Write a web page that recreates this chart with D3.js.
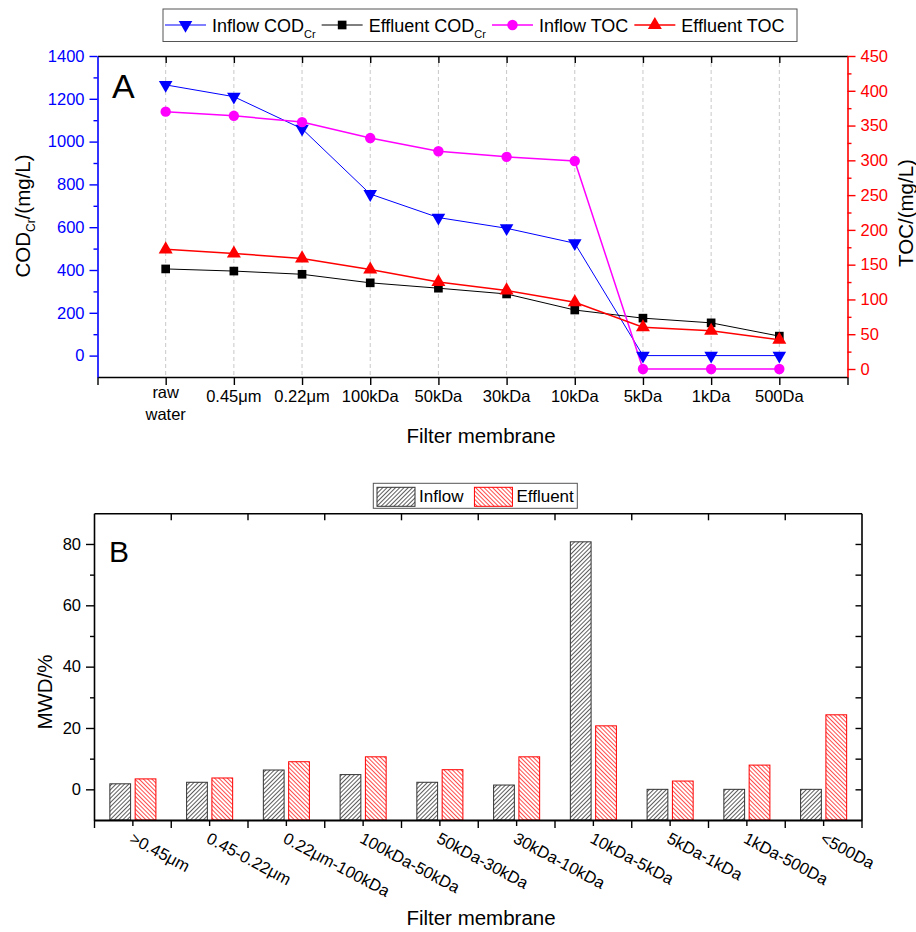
<!DOCTYPE html>
<html><head><meta charset="utf-8">
<script src="https://cdn.jsdelivr.net/npm/d3@7"></script>
<style>body{margin:0;background:#fff} text{font-family:"Liberation Sans",Arial,sans-serif}</style>
</head><body><svg id="c" width="916" height="932"></svg>
<script>
// ---------- Data: chart A ----------
const categoriesA = ["raw water", "0.45μm", "0.22μm", "100kDa", "50kDa", "30kDa", "10kDa", "5kDa", "1kDa", "500Da"];
const inflowCOD   = [1265, 1210, 1060, 755, 645, 595, 525, 0, 0, 0];
const effluentCOD = [405, 395, 380, 340, 315, 288, 213, 175, 153, 91];
const inflowTOC   = [370, 364, 355, 332, 313, 305, 299, 0, 0, 0];
const effluentTOC = [172, 166, 159, 143, 125, 113, 96, 60, 55, 42];
const codTicks = [0, 200, 400, 600, 800, 1000, 1200, 1400];
const tocTicks = [0, 50, 100, 150, 200, 250, 300, 350, 400, 450];
// ---------- Data: chart B ----------
const categoriesB = [">0.45μm", "0.45-0.22μm", "0.22μm-100kDa", "100kDa-50kDa", "50kDa-30kDa", "30kDa-10kDa", "10kDa-5kDa", "5kDa-1kDa", "1kDa-500Da", "<500Da"];
const inflowMWD   = [1.8, 2.3, 6.3, 4.8, 2.3, 1.4, 80.7, 0, 0, 0];
const effluentMWD = [3.4, 3.7, 9.0, 10.6, 6.4, 10.6, 20.7, 2.7, 7.9, 24.3];
const mwdTicks = [0, 20, 40, 60, 80];

const svg = d3.select("#c");
const FONT = "16.5px";

// patterns
const defs = svg.append("defs");
function hatch(id, color, angle) {
  const p = defs.append("pattern").attr("id", id).attr("patternUnits", "userSpaceOnUse")
    .attr("width", 3).attr("height", 3).attr("patternTransform", `rotate(${angle})`);
  p.append("rect").attr("width", 3).attr("height", 3).attr("fill", "#fff");
  p.append("line").attr("x1", 0.5).attr("y1", 0).attr("x2", 0.5).attr("y2", 3)
    .attr("stroke", color).attr("stroke-width", 0.8);
}
hatch("hIn", "#333", 45);
hatch("hEf", "#ff2020", -45);

// ================= Chart A =================
const A = {left: 97.5, right: 847.5, top: 56, bottom: 377};
const xA = d3.scaleLinear().domain([-1, 10]).range([A.left, A.right]);
const yL = d3.scaleLinear().domain([-100, 1400]).range([A.bottom, A.top]);
const yR = d3.scaleLinear().domain([-11.5, 450]).range([A.bottom, A.top]);
const gA = svg.append("g");

// grid
gA.selectAll("line.grid").data(categoriesA).join("line")
  .attr("x1", (d, i) => xA(i)).attr("x2", (d, i) => xA(i))
  .attr("y1", A.top).attr("y2", A.bottom)
  .attr("stroke", "#c8c8c8").attr("stroke-dasharray", "4,3").attr("stroke-width", 1);

function styleAxis(g, color, w) {
  g.selectAll("path.domain").attr("stroke", color).attr("stroke-width", w || 1.6);
  g.selectAll(".tick line").attr("stroke", color).attr("stroke-width", 1.4);
  g.selectAll(".tick text").attr("fill", color).style("font-size", FONT)
    .style("font-family", '"Liberation Sans",Arial,sans-serif');
}
// top axis (inward ticks)
const topA = gA.append("g").attr("transform", `translate(0,${A.top})`)
  .call(d3.axisBottom(xA).tickValues(d3.range(0, 10)).tickSize(7).tickSizeOuter(0).tickFormat(""));
styleAxis(topA, "#000");
// bottom axis
const botA = gA.append("g").attr("transform", `translate(0,${A.bottom})`)
  .call(d3.axisBottom(xA).tickValues(d3.range(-1, 11)).tickSize(8).tickSizeOuter(0).tickFormat(""));
styleAxis(botA, "#000");
// left axis
const leftA = gA.append("g").attr("transform", `translate(${A.left},0)`)
  .call(d3.axisLeft(yL).tickValues(codTicks).tickSize(8).tickSizeOuter(0).tickPadding(5).tickFormat(d3.format("d")));
gA.append("g").attr("transform", `translate(${A.left},0)`)
  .call(d3.axisLeft(yL).tickValues(d3.range(100, 1400, 200)).tickSize(4).tickFormat("")).call(g => { g.select(".domain").remove(); styleAxis(g, "#0000ff"); });
styleAxis(leftA, "#0000ff");
// right axis
const rightA = gA.append("g").attr("transform", `translate(${A.right},0)`)
  .call(d3.axisRight(yR).tickValues(tocTicks).tickSize(8).tickSizeOuter(0).tickPadding(5).tickFormat(d3.format("d")));
gA.append("g").attr("transform", `translate(${A.right},0)`)
  .call(d3.axisRight(yR).tickValues(d3.range(25, 450, 50)).tickSize(4).tickFormat("")).call(g => { g.select(".domain").remove(); styleAxis(g, "#ff0000"); });
styleAxis(rightA, "#ff0000");

// x labels A
categoriesA.forEach((c, i) => {
  if (c === "raw water") {
    const t = gA.append("text").attr("x", xA(i)).attr("y", 398).attr("text-anchor", "middle").style("font-size", FONT);
    t.append("tspan").attr("x", xA(i)).text("raw");
    t.append("tspan").attr("x", xA(i)).attr("dy", 22).text("water");
  } else {
    gA.append("text").attr("x", xA(i)).attr("y", 401.5).attr("text-anchor", "middle").style("font-size", FONT).text(c);
  }
});
gA.append("text").attr("x", 481).attr("y", 443).attr("text-anchor", "middle").style("font-size", "20.5px").text("Filter membrane");
// y titles
const tl = gA.append("text").attr("transform", "translate(30,216) rotate(-90)").attr("text-anchor", "middle").style("font-size", "20.5px");
tl.append("tspan").text("COD");
tl.append("tspan").attr("dy", 5).style("font-size", "12px").text("Cr");
tl.append("tspan").attr("dy", -5).text("/(mg/L)");
gA.append("text").attr("transform", "translate(913,213) rotate(-90)").attr("text-anchor", "middle").style("font-size", "20.5px").text("TOC/(mg/L)");
gA.append("text").attr("x", 112).attr("y", 98).style("font-size", "34px").text("A");

// series
const seriesA = [
  {name: "Inflow COD", sub: "Cr", data: inflowCOD, y: yL, color: "#0000ff", sym: d3.symbolTriangle, rot: 180, size: 80, w: 1},
  {name: "Effluent COD", sub: "Cr", data: effluentCOD, y: yL, color: "#000000", sym: d3.symbolSquare, rot: 0, size: 75, w: 1},
  {name: "Inflow TOC", sub: "", data: inflowTOC, y: yR, color: "#ff00ff", sym: d3.symbolCircle, rot: 0, size: 85, w: 1.5},
  {name: "Effluent TOC", sub: "", data: effluentTOC, y: yR, color: "#ff0000", sym: d3.symbolTriangle, rot: 0, size: 85, w: 1.5}
];
seriesA.forEach(s => {
  gA.append("path").datum(s.data)
    .attr("d", d3.line().x((d, i) => xA(i)).y(d => s.y(d)))
    .attr("fill", "none").attr("stroke", s.color).attr("stroke-width", s.w);
});
seriesA.forEach(s => {
  gA.selectAll(null).data(s.data).join("path")
    .attr("d", d3.symbol().type(s.sym).size(s.size))
    .attr("transform", (d, i) => `translate(${xA(i)},${s.y(d)}) rotate(${s.rot})`)
    .attr("fill", s.color);
});

// legend A
const legA = gA.append("g");
legA.append("rect").attr("x", 163).attr("y", 9).attr("width", 634).attr("height", 32.5)
  .attr("fill", "#fff").attr("stroke", "#555").attr("stroke-width", 1);
let lx = 165;
seriesA.forEach(s => {
  legA.append("line").attr("x1", lx).attr("x2", lx + 41).attr("y1", 25).attr("y2", 25)
    .attr("stroke", s.color).attr("stroke-width", s.w);
  legA.append("path").attr("d", d3.symbol().type(s.sym).size(s.size))
    .attr("transform", `translate(${lx + 20.5},25) rotate(${s.rot})`).attr("fill", s.color);
  const t = legA.append("text").attr("x", lx + 47).attr("y", 31.5).style("font-size", "18px");
  t.append("tspan").text(s.name);
  if (s.sub) t.append("tspan").attr("dy", 6).style("font-size", "11px").text(s.sub);
  lx = lx + 47 + t.node().getComputedTextLength() + 6;
});

// ================= Chart B =================
const B = {left: 94, right: 861.5, top: 513.3, bottom: 820};
const xB = d3.scaleBand().domain(categoriesB).range([B.left, B.right]).padding(0);
const xBL = d3.scaleLinear().domain([0, categoriesB.length]).range([B.left, B.right]);
const yB = d3.scaleLinear().domain([-10, 90]).range([B.bottom, B.top]);
const bw = xB.bandwidth();
const xInner = d3.scaleBand().domain(["Inflow", "Effluent"]).range([bw * 0.2, bw * 0.8]).paddingInner(0.18);
const gB = svg.append("g");

const seriesB = [
  {name: "Inflow", data: inflowMWD, fill: "url(#hIn)", stroke: "#333"},
  {name: "Effluent", data: effluentMWD, fill: "url(#hEf)", stroke: "#ff0000"}
];
seriesB.forEach(s => {
  gB.selectAll(null).data(s.data).join("rect")
    .attr("x", (d, i) => xB(categoriesB[i]) + xInner(s.name) + 0.5)
    .attr("width", xInner.bandwidth())
    .attr("y", d => yB(d)).attr("height", d => yB(-10) - yB(d))
    .attr("fill", s.fill).attr("stroke", s.stroke).attr("stroke-width", 1);
});

// axes B
const topB = gB.append("g").attr("transform", `translate(0,${B.top})`)
  .call(d3.axisBottom(xBL).tickValues(d3.range(1, 10)).tickSize(7).tickSizeOuter(0).tickFormat(""));
styleAxis(topB, "#000");
const botB = gB.append("g").attr("transform", `translate(0,${B.bottom})`)
  .call(d3.axisBottom(xBL).tickValues(d3.range(0, 11)).tickSize(8).tickSizeOuter(0).tickFormat(""));
styleAxis(botB, "#000", 2);
gB.append("g").attr("transform", `translate(0,${B.bottom})`)
  .call(d3.axisBottom(xBL).tickValues(d3.range(0.5, 10, 1)).tickSize(6).tickFormat(""))
  .call(g => { g.select(".domain").remove(); styleAxis(g, "#000"); });
const leftB = gB.append("g").attr("transform", `translate(${B.left},0)`)
  .call(d3.axisLeft(yB).tickValues(mwdTicks).tickSize(8).tickSizeOuter(0).tickPadding(5));
styleAxis(leftB, "#000");
gB.append("g").attr("transform", `translate(${B.left},0)`)
  .call(d3.axisLeft(yB).tickValues([10, 30, 50, 70]).tickSize(4).tickFormat(""))
  .call(g => { g.select(".domain").remove(); styleAxis(g, "#000"); });
const rightB = gB.append("g").attr("transform", `translate(${B.right},0)`)
  .call(d3.axisLeft(yB).tickValues(d3.range(0, 81, 10)).tickSize(6).tickSizeOuter(0).tickFormat(""));
styleAxis(rightB, "#000");

// x labels B (rotated)
categoriesB.forEach((c, i) => {
  const cx = xB(c) + bw / 2;
  gB.append("text").attr("transform", `translate(${cx - 4},842) rotate(28)`)
    .style("font-size", FONT).text(c);
});
gB.append("text").attr("x", 481).attr("y", 925).attr("text-anchor", "middle").style("font-size", "20.5px").text("Filter membrane");
gB.append("text").attr("transform", "translate(52,692) rotate(-90)").attr("text-anchor", "middle").style("font-size", "20.5px").text("MWD/%");
gB.append("text").attr("x", 109).attr("y", 562).style("font-size", "30px").text("B");

// legend B
const legB = gB.append("g");
legB.append("rect").attr("x", 373.3).attr("y", 483.3).attr("width", 204).attr("height", 25)
  .attr("fill", "#fff").attr("stroke", "#555").attr("stroke-width", 1);
let bx = 377;
seriesB.forEach((s, k) => {
  legB.append("rect").attr("x", bx).attr("y", 487.3).attr("width", 38).attr("height", 19)
    .attr("fill", s.fill).attr("stroke", s.stroke).attr("stroke-width", 1);
  const t = legB.append("text").attr("x", bx + 42).attr("y", 502).style("font-size", "17px").text(s.name);
  bx = bx + 42 + t.node().getComputedTextLength() + (k === 0 ? 11 : 0);
});
</script></body></html>
